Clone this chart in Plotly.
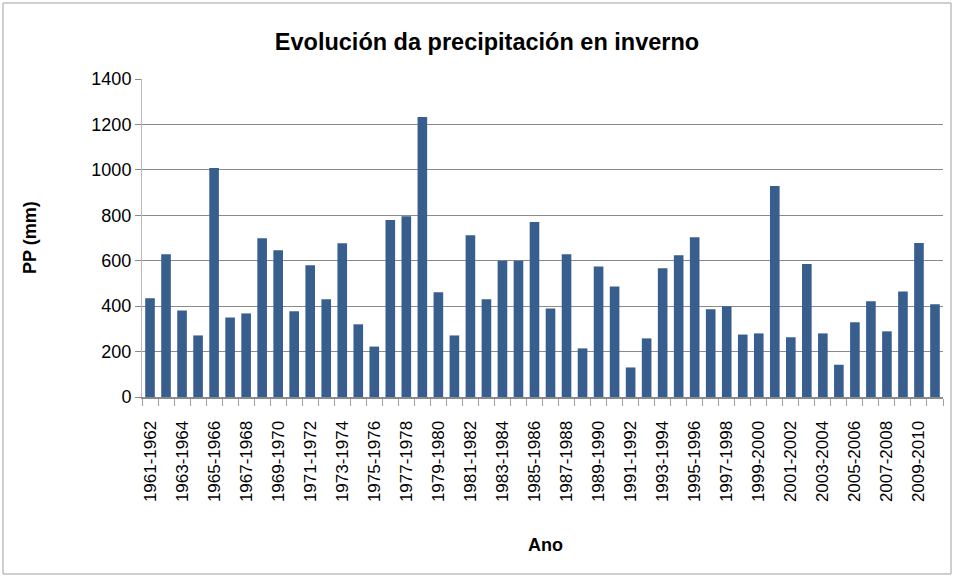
import plotly.graph_objects as go

seasons = [f"{y}-{y+1}" for y in range(1961, 2011)]
precip = [435, 628, 381, 271, 1008, 350, 368, 699, 646, 377,
          580, 430, 677, 320, 222, 779, 796, 1233, 461, 271,
          712, 430, 600, 600, 770, 390, 628, 214, 575, 487,
          130, 258, 567, 624, 703, 386, 399, 275, 280, 929,
          263, 585, 280, 142, 329, 421, 289, 465, 678, 408]

x_idx = list(range(len(seasons)))
label_idx = x_idx[::2]
label_text = seasons[::2]

fig = go.Figure()
fig.add_trace(go.Bar(x=x_idx, y=precip, marker_color="#385E8E",
                     marker_line_width=0, hovertext=seasons))

fig.update_layout(
    width=954, height=577,
    margin=dict(l=142, r=11, t=79, b=180),
    paper_bgcolor="white", plot_bgcolor="white",
    bargap=0.4,
    showlegend=False,
    font=dict(family="Liberation Sans, Arial", color="black"),
    title=dict(text="<b>Evolución da precipitación en inverno</b>",
               x=(487 - 142) / 801, xref="paper", xanchor="center",
               y=1 - 42 / 577, yanchor="middle",
               font=dict(size=23.5, family="Liberation Sans, Arial")),
)
fig.update_yaxes(range=[0, 1400], dtick=200, showgrid=True, gridcolor="#8A8A8A",
                 gridwidth=1, showline=True, linecolor="#B8B8B8", linewidth=1,
                 ticks="outside", ticklen=6, tickcolor="#8A8A8A",
                 tickfont=dict(size=18), zeroline=False)
fig.update_xaxes(range=[-0.5, len(seasons) - 0.5], tickmode="array",
                 tickvals=label_idx, ticktext=label_text, tickangle=-90,
                 ticks="", tickfont=dict(size=17), showgrid=False,
                 ticklabelstandoff=15,
                 showline=True, linecolor="#8A8A8A", linewidth=2, zeroline=False,
                 minor=dict(ticks="outside", tickmode="linear", tick0=0.5, dtick=1,
                            ticklen=7, tickcolor="#A0A0A0", showgrid=False))

fig.add_annotation(text="<b>PP (mm)</b>", xref="paper", yref="paper",
                   x=(30 - 142) / 801, y=0.5, textangle=-90, showarrow=False,
                   font=dict(size=18), xanchor="center", yanchor="middle")
fig.add_annotation(text="<b>Ano</b>", xref="paper", yref="paper",
                   x=(545 - 142) / 801, y=(397 - 545) / 318, showarrow=False,
                   font=dict(size=18), xanchor="center", yanchor="middle")
fig.add_shape(type="rect", xref="paper", yref="paper",
              x0=(3 - 142) / 801, x1=(951 - 142) / 801,
              y0=(397 - 574) / 318, y1=(397 - 3) / 318,
              line=dict(color="#A0A0A0", width=1))

fig.write_html("out.html", config={"displayModeBar": False},
               post_script="document.body.style.margin='0';document.body.style.overflow='hidden';")
